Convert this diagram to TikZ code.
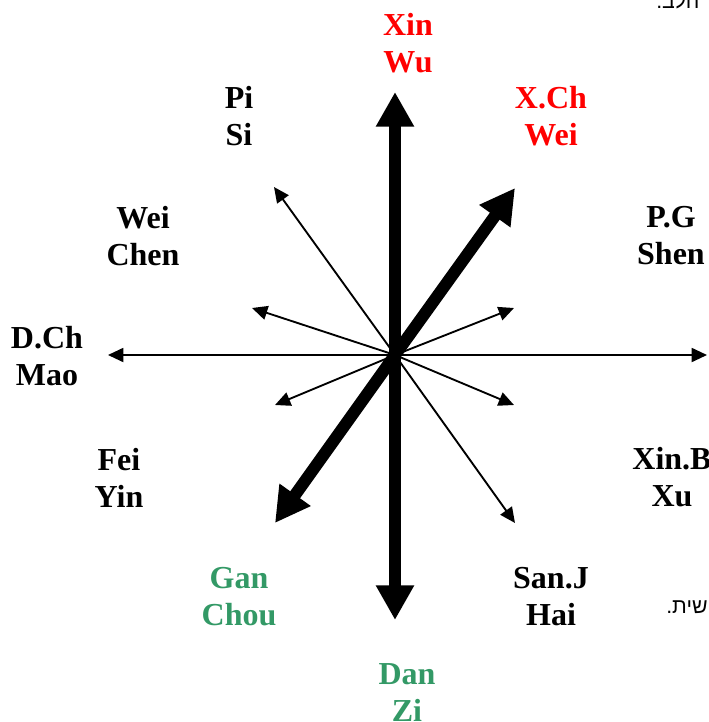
\documentclass[tikz,border=0pt]{standalone}
\usepackage{fontspec}
\setmainfont{Liberation Serif}
\newfontfamily\hebfont[Script=Hebrew]{Liberation Sans}
\TeXXeTstate=1
\usetikzlibrary{arrows.meta}
\definecolor{branchred}{RGB}{255,0,0}
\definecolor{branchgreen}{RGB}{51,153,102}

\begin{document}
\begin{tikzpicture}[
  x=0.75pt, y=-0.75pt,
  lbl/.style={align=center, inner sep=0pt, font=\fontsize{24}{27.75}\selectfont\bfseries},
  fire/.style={lbl, text=branchred},
  water/.style={lbl, text=branchgreen},
  heavy/.style={line width=9pt, -{Triangle[length=26pt, width=27pt]}},
  light/.style={line width=1.4pt, -{Triangle[length=11.5pt, width=10.5pt]}},
  frag/.style={inner sep=0pt, anchor=base west, font=\hebfont\fontsize{16}{18}\selectfont}
]
\useasboundingbox (0,0) rectangle (708,722);
\clip (0,0) rectangle (708,722);

\coordinate (o) at (395,355);
\coordinate (tN) at (395,92);
\coordinate (tS) at (395,620);
\coordinate (tNE) at (515,188);
\coordinate (tSW) at (275,523);
\coordinate (tW) at (108,355);
\coordinate (tE) at (707,355);
\coordinate (tNW) at (274,187);
\coordinate (tSE) at (515,523);
\coordinate (tWNW) at (252,308);
\coordinate (tENE) at (514,308);
\coordinate (tWSW) at (275,405);
\coordinate (tESE) at (514,405);

\draw[light] (o) -- (tW);
\draw[light] (o) -- (tE);
\draw[light] (o) -- (tNW);
\draw[light] (o) -- (tSE);
\draw[light] (o) -- (tWNW);
\draw[light] (o) -- (tENE);
\draw[light] (o) -- (tWSW);
\draw[light] (o) -- (tESE);

\draw[heavy] (o) -- (tN);
\draw[heavy] (o) -- (tS);
\draw[heavy] (o) -- (tNE);
\draw[heavy] (o) -- (tSW);

\node[fire] (wu) at (408,43.5) {Xin\\Wu};
\node[fire] (wei) at (551,116.5) {X.Ch\\Wei};
\node[lbl] (si) at (239,116.5) {Pi\\Si};
\node[lbl] (chen) at (143,236) {Wei\\Chen};
\node[lbl] (shen) at (671,236) {P.G\\Shen};
\node[lbl] (mao) at (47,356.5) {D.Ch\\Mao};
\node[lbl] (yin) at (119,477.5) {Fei\\Yin};
\node[lbl] (xu) at (672,477.5) {Xin.B\\Xu};
\node[water] (chou) at (239,596.5) {Gan\\Chou};
\node[lbl] (hai) at (551,596.5) {San.J\\Hai};
\node[water] (zi) at (407,692.5) {Dan\\Zi};

\node[frag] (fragtop) at (656,8) {\beginR הלב.\endR};
\node[frag] (fragbot) at (666,613) {\beginR שית.\endR};

\end{tikzpicture}
\end{document}
